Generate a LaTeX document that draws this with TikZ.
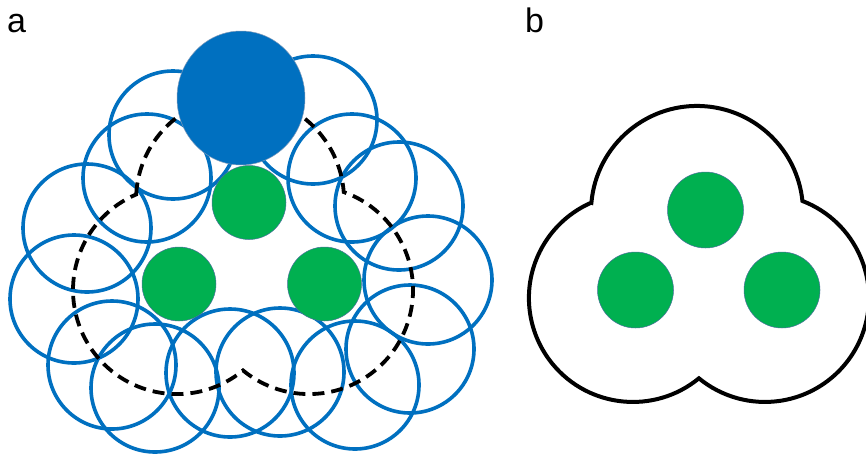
\documentclass[tikz,border=0pt]{standalone}
\usepackage{fontspec}
\setmainfont{Liberation Sans}
\usetikzlibrary{shapes.geometric}
\definecolor{oblue}{HTML}{0070C0}
\definecolor{ogreen}{HTML}{00B050}
\definecolor{edgec}{HTML}{4A6F9C}
\begin{document}
\begin{tikzpicture}[x=1pt,y=-1pt,
  ring/.style={circle, draw=oblue, line width=3.6pt, minimum size=128pt, inner sep=0pt},
  corea/.style={circle, fill=ogreen, draw=edgec, line width=0.5pt, minimum size=74pt, inner sep=0pt},
  coreb/.style={circle, fill=ogreen, draw=edgec, line width=0.5pt, minimum size=76pt, inner sep=0pt},
  bigball/.style={ellipse, fill=oblue, draw=edgec!70, line width=0.5pt, minimum width=128pt, minimum height=134pt, inner sep=0pt},
  hull/.style={draw=black, line width=3.8pt, dash pattern=on 12pt off 7pt},
  shell/.style={draw=black, line width=4pt, line join=miter},
  lab/.style={anchor=base west, inner sep=0pt, font=\fontsize{34}{40}\selectfont}]
\useasboundingbox (0,0) rectangle (866,453);
\clip (0,0) rectangle (866,453);

% labels
\node[lab] (la) at (7,32) {a};
\node[lab] (lb) at (525,32) {b};

% panel a: ring of outline circles
\foreach \n/\x/\y in {1/173/135, 2/313/120, 3/147/178, 4/352/178, 5/87/228,
  6/399/206, 7/74/299, 8/428/280, 9/112/365, 10/410/349, 11/155/388,
  12/230/373, 13/280/372, 14/355/385}
  \node[ring] (w\n) at (\x,\y) {};

% panel a: dashed hull (three overlapping lobes)
\draw[hull] (136.2,194.4) arc[start angle=183.1, end angle=355.6, radius=104]
  arc[start angle=-70.5, end angle=129.4, radius=104]
  arc[start angle=50.6, end angle=246.9, radius=104] -- cycle;

% panel a: green cores and big blue ball
\node[corea] (ga1) at (249,202.5) {};
\node[corea] (ga2) at (179,284) {};
\node[corea] (ga3) at (324.5,284) {};
\node[bigball] (ball) at (241,98) {};

% panel b: solid hull
\draw[shell] (591.4,202.7) arc[start angle=185.0, end angle=354.05, radius=106]
  arc[start angle=-68.86, end angle=129.4, radius=104]
  arc[start angle=50.6, end angle=246.4, radius=104] -- cycle;

% panel b: green cores
\node[coreb] (gb1) at (705.5,210) {};
\node[coreb] (gb2) at (635.5,290) {};
\node[coreb] (gb3) at (782,290) {};
\end{tikzpicture}
\end{document}
